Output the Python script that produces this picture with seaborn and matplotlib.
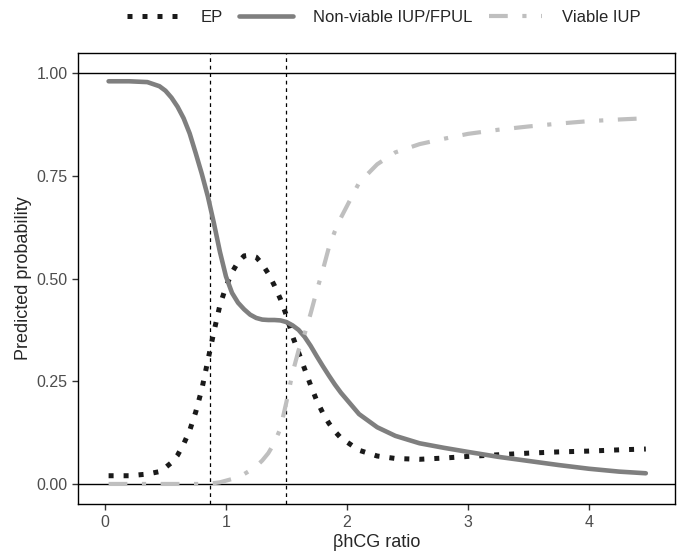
import pandas as pd
import matplotlib
matplotlib.use("Agg")
import matplotlib.pyplot as plt
import seaborn as sns

# hCG ratio grid and predicted probabilities
ratio = [0.03, 0.2, 0.35, 0.45, 0.5, 0.55, 0.6, 0.65, 0.7, 0.75, 0.8, 0.85, 0.9, 0.95,
         1.0, 1.05, 1.1, 1.15, 1.2, 1.25, 1.3, 1.35, 1.4, 1.45, 1.5, 1.55, 1.6, 1.65,
         1.7, 1.75, 1.8, 1.85, 1.9, 1.95, 2.1, 2.25, 2.4, 2.6, 2.8, 3.0, 3.25, 3.5,
         3.75, 4.0, 4.25, 4.47]
ep = [0.02, 0.02, 0.024, 0.03, 0.04, 0.052, 0.07, 0.097, 0.13, 0.175, 0.23, 0.30,
      0.37, 0.435, 0.48, 0.515, 0.54, 0.555, 0.557, 0.552, 0.535, 0.512, 0.483, 0.45,
      0.41, 0.36, 0.32, 0.28, 0.24, 0.203, 0.173, 0.148, 0.128, 0.112, 0.082, 0.068,
      0.062, 0.06, 0.063, 0.067, 0.071, 0.075, 0.078, 0.08, 0.083, 0.085]
nonviable = [0.98, 0.98, 0.978, 0.968, 0.957, 0.94, 0.918, 0.89, 0.853, 0.805, 0.755,
             0.70, 0.635, 0.565, 0.505, 0.465, 0.441, 0.425, 0.412, 0.404, 0.40, 0.399,
             0.399, 0.398, 0.394, 0.386, 0.375, 0.358, 0.336, 0.311, 0.287, 0.264,
             0.242, 0.222, 0.17, 0.138, 0.117, 0.099, 0.088, 0.078, 0.066, 0.056,
             0.046, 0.037, 0.030, 0.026]
viable = [0.0, 0.0, 0.0, 0.0, 0.0, 0.0, 0.0, 0.0, 0.0, 0.0, 0.0, 0.001, 0.002, 0.004,
          0.008, 0.012, 0.017, 0.024, 0.033, 0.043, 0.057, 0.075, 0.10, 0.135, 0.2,
          0.27, 0.325, 0.365, 0.415, 0.47, 0.52, 0.575, 0.615, 0.648, 0.733, 0.778,
          0.807, 0.827, 0.840, 0.852, 0.862, 0.87, 0.877, 0.883, 0.887, 0.89]
cutoffs = [0.87, 1.50]

series = ["EP", "Non-viable IUP/FPUL", "Viable IUP"]
colors = ["#1a1a1a", "#7f7f7f", "#bfbfbf"]
widths = [3.6, 3.3, 3.0]
styles = [(0, (1, 2)), "-", (0, (4.5, 3.5, 1, 3.5))]

df = pd.DataFrame({"ratio": ratio * 3,
                   "prob": ep + nonviable + viable,
                   "outcome": [s for s in series for _ in ratio]})

sns.set_style("ticks")
plt.rcParams['font.family'] = ['Liberation Sans', 'DejaVu Sans']

fig = plt.figure(figsize=(6.77, 5.51), dpi=100)
ax = fig.add_axes([0.1152, 0.0844, 0.8818, 0.8203])

ax.axhline(0, color="black", lw=1, zorder=1)
ax.axhline(1, color="black", lw=1, zorder=1)
for c in cutoffs:
    ax.axvline(c, color="black", lw=0.9, linestyle=(0, (3, 3)), zorder=1)

for name, col, w, ls in zip(series, colors, widths, styles):
    sns.lineplot(data=df[df["outcome"] == name], x="ratio", y="prob", ax=ax,
                 color=col, lw=w, linestyle=ls, label=name, zorder=3)

for ln in ax.get_lines():
    ln.set_dash_capstyle("butt")

ax.set_xlim(-0.223, 4.711)
ax.set_ylim(-0.05, 1.05)
ax.set_xticks([0, 1, 2, 3, 4])
ax.set_yticks([0, 0.25, 0.5, 0.75, 1.0])
ax.set_yticklabels(["0.00", "0.25", "0.50", "0.75", "1.00"])
ax.tick_params(labelsize=11.5, labelcolor="#4d4d4d", color="#333333", length=4, width=1)
ax.set_xlabel("βhCG ratio", fontsize=13, labelpad=3)
ax.set_ylabel("Predicted probability", fontsize=13, labelpad=3)
for sp in ax.spines.values():
    sp.set_visible(True)
    sp.set_color("black")
    sp.set_linewidth(1)

ax.legend(loc="upper center", bbox_to_anchor=(0.567, 1.0), bbox_transform=fig.transFigure,
          ncol=3, frameon=False, fontsize=12, handlelength=3.2, columnspacing=1.0,
          handletextpad=1.2, borderaxespad=0.2)

plt.savefig("out.png", dpi=100)
plt.close()
